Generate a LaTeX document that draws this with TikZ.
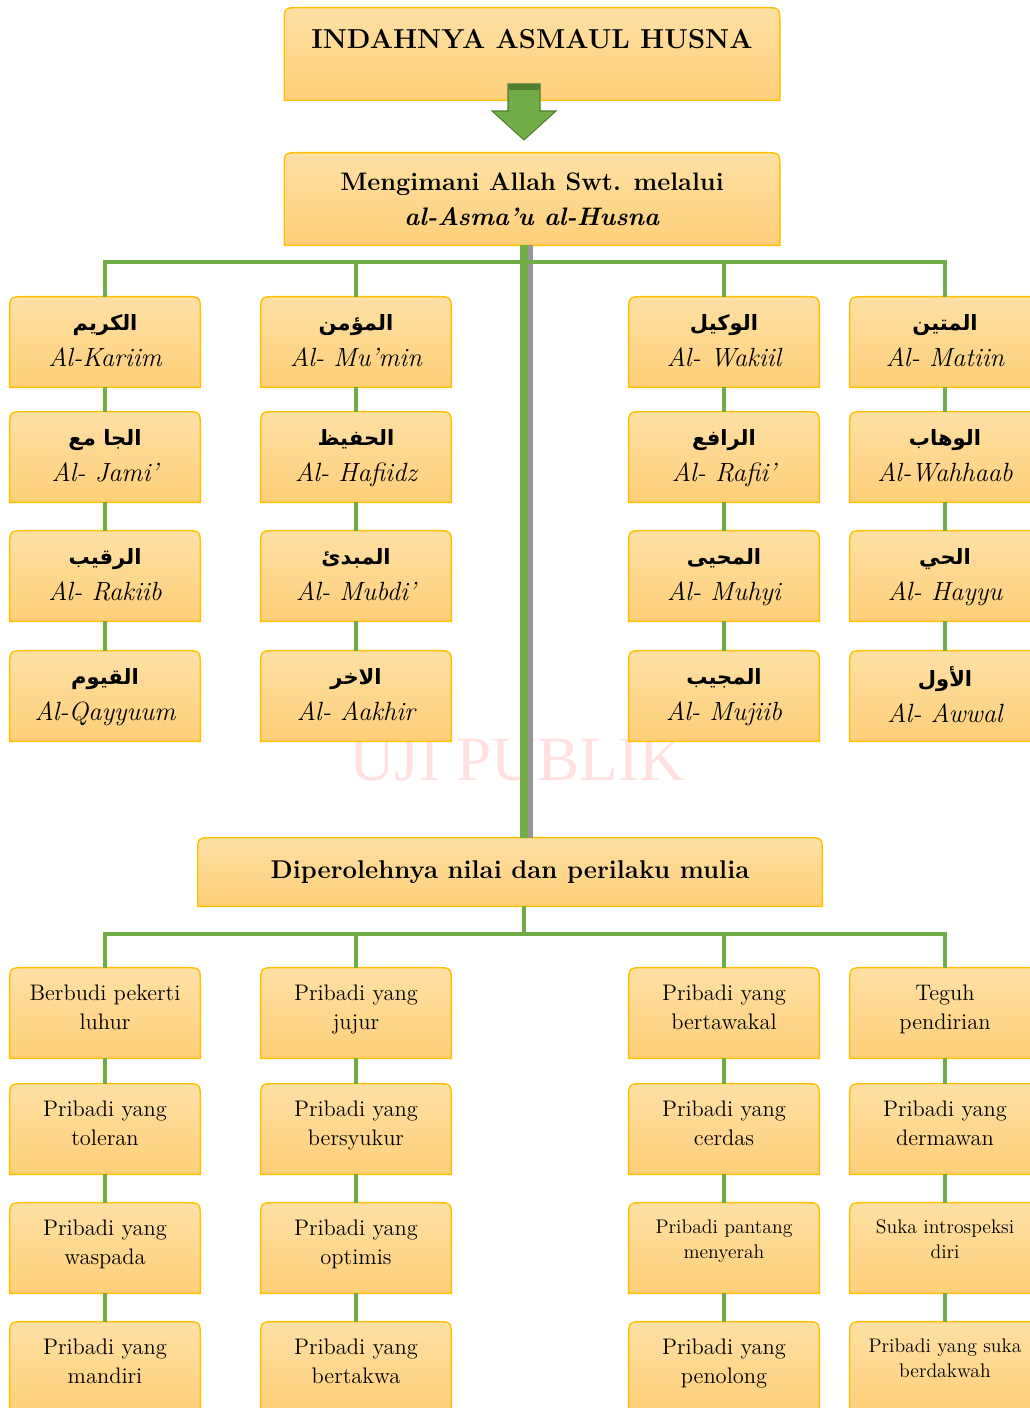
\documentclass[tikz,border=0pt]{standalone}
\usepackage{fontspec}
\newfontfamily\arabicfont[Script=Arabic]{DejaVu Sans}
\newfontfamily\markfont{Liberation Serif}
\TeXXeTstate=1
\usetikzlibrary{backgrounds}

\definecolor{boxtop}{RGB}{254,224,165}
\definecolor{boxbot}{RGB}{254,207,120}
\definecolor{boxedge}{RGB}{255,192,0}
\definecolor{linkgreen}{RGB}{112,173,71}
\definecolor{arrowdark}{RGB}{80,126,50}
\definecolor{trunkgrey}{RGB}{150,150,150}
\definecolor{markpink}{RGB}{255,225,225}

% arabic name, bold and upright
\newcommand\ar[1]{{\arabicfont\bfseries\upshape\fontsize{12}{12}\selectfont\beginR #1\endR}}
% box with rounded top corners only
\newcommand\boxshape[1]{%
  \draw[boxline] (#1.south west) -- ([yshift=-0.32cm]#1.north west)
    .. controls (#1.north west) .. ([xshift=0.32cm]#1.north west)
    -- ([xshift=-0.32cm]#1.north east)
    .. controls (#1.north east) .. ([yshift=-0.32cm]#1.north east)
    -- (#1.south east) -- cycle;}

\begin{document}
\begin{tikzpicture}[x=0.02cm, y=-0.02cm,
    link/.style={draw=linkgreen, line width=2.3pt},
    trunk/.style={draw=linkgreen, line width=5pt},
    boxline/.style={draw=boxedge, line width=0.8pt, top color=boxtop, bottom color=boxbot},
    namebox/.style={minimum width=3.8cm, minimum height=1.8cm, inner sep=0pt, align=center},
    asma/.style={namebox, text depth=2pt, font=\fontsize{15}{20.5}\selectfont\itshape},
    sifat/.style={namebox, text depth=7pt, font=\fontsize{12.8}{16.5}\selectfont},
    sifatkecil/.style={namebox, text depth=10pt, font=\fontsize{11.2}{14.2}\selectfont}]
\useasboundingbox (0,0) rectangle (1029,1408);
\clip (0,0) rectangle (1029,1408);

\node[minimum width=9.9cm, minimum height=1.84cm, inner sep=0pt, text depth=17pt,
  font=\fontsize{15.6}{18}\selectfont\bfseries] (top) at (532,54) {INDAHNYA ASMAUL HUSNA};
\node[minimum width=9.9cm, minimum height=1.84cm, inner sep=0pt, align=center,
  font=\fontsize{14.4}{20}\selectfont\bfseries] (iman) at (532,199)
  {Mengimani Allah Swt. melalui\\\textit{al-Asma’u al-Husna}};
\node[minimum width=12.48cm, minimum height=1.36cm, inner sep=0pt,
  font=\fontsize{14.6}{18}\selectfont\bfseries] (hasil) at (510,872)
  {Diperolehnya nilai dan perilaku mulia};

% asmaul husna
\node[asma] (kariim) at (105,342) {\ar{الكريم}\\Al-Kariim};
\node[asma] (jami) at (105,457) {\ar{الجا مع}\\Al- Jami’};
\node[asma] (rakiib) at (105,576) {\ar{الرقيب}\\Al- Rakiib};
\node[asma] (qayyuum) at (105,696) {\ar{القيوم}\\Al-Qayyuum};
\node[asma] (mumin) at (356,342) {\ar{المؤمن}\\Al- Mu’min};
\node[asma] (hafiidz) at (356,457) {\ar{الحفيظ}\\Al- Hafiidz};
\node[asma] (mubdi) at (356,576) {\ar{المبدئ}\\Al- Mubdi’};
\node[asma] (aakhir) at (356,696) {\ar{الاخر}\\Al- Aakhir};
\node[asma] (wakiil) at (724,342) {\ar{الوكيل}\\Al- Wakiil};
\node[asma] (rafii) at (724,457) {\ar{الرافع}\\Al- Rafii’};
\node[asma] (muhyi) at (724,576) {\ar{المحيى}\\Al- Muhyi};
\node[asma] (mujiib) at (724,696) {\ar{المجيب}\\Al- Mujiib};
\node[asma] (matiin) at (945,342) {\ar{المتين}\\Al- Matiin};
\node[asma] (wahhaab) at (945,457) {\ar{الوهاب}\\Al-Wahhaab};
\node[asma] (hayyu) at (945,576) {\ar{الحي}\\Al- Hayyu};
\node[asma] (awwal) at (945,696) {\ar{الأول}\\Al- Awwal};

% nilai dan perilaku
\node[sifat] (luhur) at (105,1013) {Berbudi pekerti\\luhur};
\node[sifat] (toleran) at (105,1129) {Pribadi yang\\toleran};
\node[sifat] (waspada) at (105,1248) {Pribadi yang\\waspada};
\node[sifat] (mandiri) at (105,1367) {Pribadi yang\\mandiri};
\node[sifat] (jujur) at (356,1013) {Pribadi yang\\jujur};
\node[sifat] (syukur) at (356,1129) {Pribadi yang\\bersyukur};
\node[sifat] (optimis) at (356,1248) {Pribadi yang\\optimis};
\node[sifat] (takwa) at (356,1367) {Pribadi yang\\bertakwa};
\node[sifat] (tawakal) at (724,1013) {Pribadi yang\\bertawakal};
\node[sifat] (cerdas) at (724,1129) {Pribadi yang\\cerdas};
\node[sifatkecil] (pantang) at (724,1248) {Pribadi pantang\\menyerah};
\node[sifat] (penolong) at (724,1367) {Pribadi yang\\penolong};
\node[sifat] (teguh) at (945,1013) {Teguh\\pendirian};
\node[sifat] (dermawan) at (945,1129) {Pribadi yang\\dermawan};
\node[sifatkecil] (introspeksi) at (945,1248) {Suka introspeksi\\diri};
\node[sifatkecil] (dakwah) at (945,1367) {Pribadi yang suka\\berdakwah};

\begin{scope}[on background layer]
  \node[font=\markfont\fontsize{36}{36}\selectfont, text=markpink] (mark) at (517,760) {UJI PUBLIK};
  \foreach \n in {top,iman,hasil,kariim,jami,rakiib,qayyuum,mumin,hafiidz,mubdi,aakhir,
      wakiil,rafii,muhyi,mujiib,matiin,wahhaab,hayyu,awwal,luhur,toleran,waspada,mandiri,
      jujur,syukur,optimis,takwa,tawakal,cerdas,pantang,penolong,teguh,dermawan,introspeksi,dakwah}
    {\boxshape{\n}}
\end{scope}

% block arrow
\draw[fill=linkgreen, draw=arrowdark, line width=0.6pt]
  (508,84) -- (540,84) -- (540,111) -- (556,111) -- (524,140) -- (492,111) -- (508,111) -- cycle;
\fill[arrowdark] (508.5,84.5) rectangle (539.5,90);

\coordinate (jA) at (524,262);
\coordinate (jB) at (524,934);
\draw[trunkgrey, line width=3pt] ([xshift=0.12cm]iman.south -| jA) -- ([xshift=0.12cm]hasil.north -| jA);
\draw[trunk] (iman.south -| jA) -- (hasil.north -| jA);
\foreach \n in {kariim,mumin,wakiil,matiin} \draw[link] (jA) -| (\n.north);
\draw[link] (hasil.south -| jB) -- (jB);
\foreach \n in {luhur,jujur,tawakal,teguh} \draw[link] (jB) -| (\n.north);

\draw[link] (kariim.south) -- (jami.north) (jami.south) -- (rakiib.north) (rakiib.south) -- (qayyuum.north);
\draw[link] (mumin.south) -- (hafiidz.north) (hafiidz.south) -- (mubdi.north) (mubdi.south) -- (aakhir.north);
\draw[link] (wakiil.south) -- (rafii.north) (rafii.south) -- (muhyi.north) (muhyi.south) -- (mujiib.north);
\draw[link] (matiin.south) -- (wahhaab.north) (wahhaab.south) -- (hayyu.north) (hayyu.south) -- (awwal.north);
\draw[link] (luhur.south) -- (toleran.north) (toleran.south) -- (waspada.north) (waspada.south) -- (mandiri.north);
\draw[link] (jujur.south) -- (syukur.north) (syukur.south) -- (optimis.north) (optimis.south) -- (takwa.north);
\draw[link] (tawakal.south) -- (cerdas.north) (cerdas.south) -- (pantang.north) (pantang.south) -- (penolong.north);
\draw[link] (teguh.south) -- (dermawan.north) (dermawan.south) -- (introspeksi.north) (introspeksi.south) -- (dakwah.north);
\end{tikzpicture}
\end{document}
